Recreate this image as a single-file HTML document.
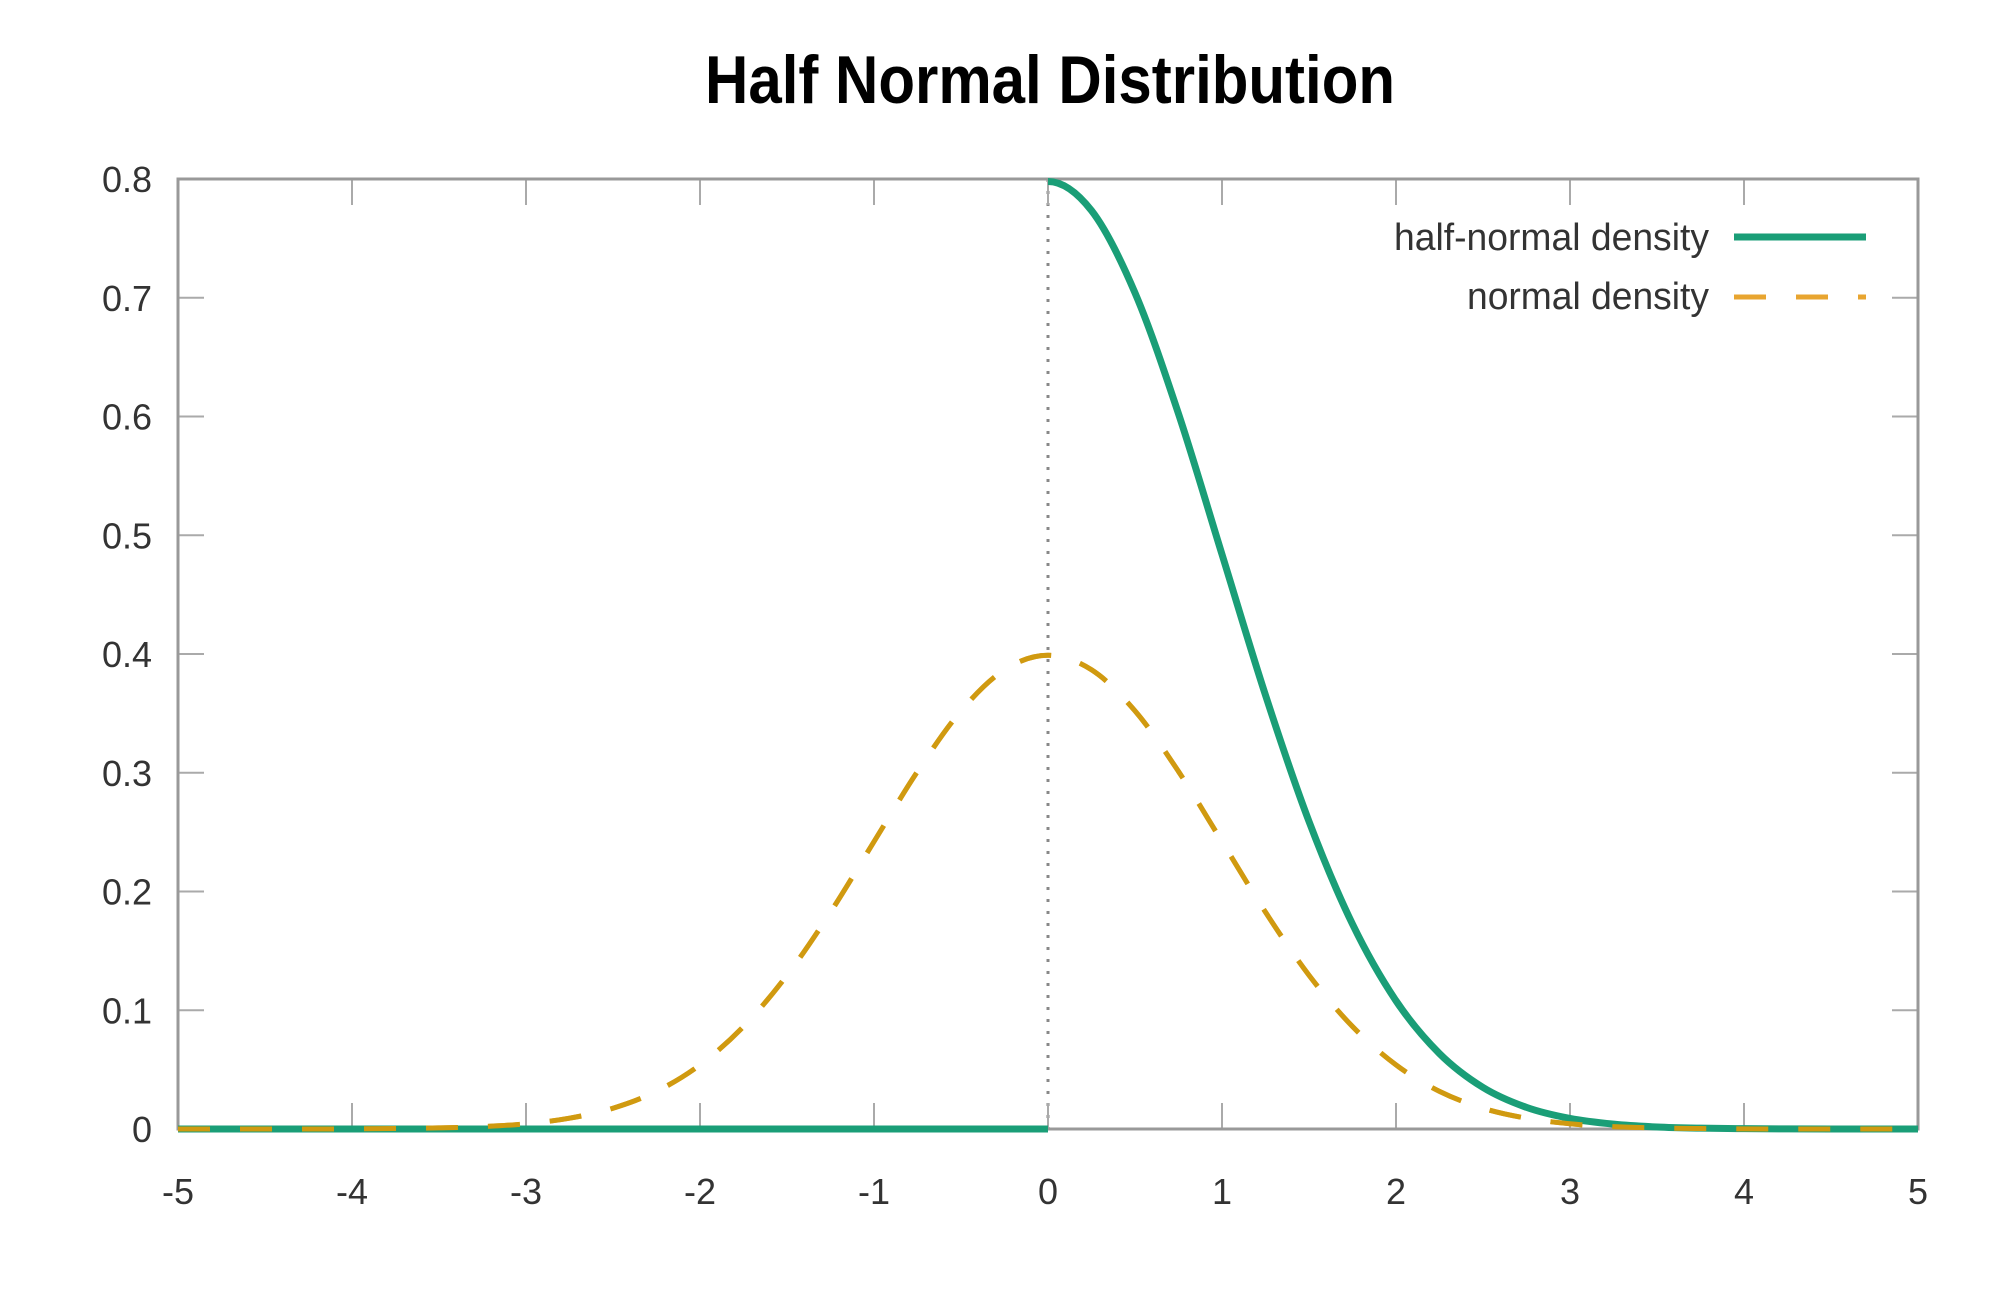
<!DOCTYPE html>
<html><head><meta charset="utf-8"><style>
html,body{margin:0;padding:0;background:#fff;}
svg{display:block;}
text{font-family:"Liberation Sans",sans-serif;}
</style></head><body>
<svg id="chart" width="2000" height="1309" viewBox="0 0 2000 1309" xmlns="http://www.w3.org/2000/svg">
<rect width="2000" height="1309" fill="#fff"/>
<text x="1050" y="103" text-anchor="middle" font-size="68" font-weight="bold" textLength="690" lengthAdjust="spacingAndGlyphs" fill="#000">Half Normal Distribution</text>
<g id="axes"></g>
<g id="series"></g>
<g>
<text x="1709" y="250" text-anchor="end" font-size="38" fill="#333" textLength="315" lengthAdjust="spacingAndGlyphs">half-normal density</text>
<line x1="1734" y1="237" x2="1866" y2="237" stroke="#1a9e77" stroke-width="7"/>
<text x="1709" y="309" text-anchor="end" font-size="38" fill="#333" textLength="242" lengthAdjust="spacingAndGlyphs">normal density</text>
<line x1="1734" y1="297" x2="1866" y2="297" stroke="#e8a530" stroke-width="5" stroke-dasharray="32,30"/>
</g>
</svg>
<script>
const xValues = [-5,-4.75,-4.5,-4.25,-4,-3.75,-3.5,-3.25,-3,-2.75,-2.5,-2.25,-2,-1.75,-1.5,-1.25,-1,-0.75,-0.5,-0.25,0,0.25,0.5,0.75,1,1.25,1.5,1.75,2,2.25,2.5,2.75,3,3.25,3.5,3.75,4,4.25,4.5,4.75,5];
const normalValues = [0,0,0,0,0.0001,0.0004,0.0009,0.0020,0.0044,0.0091,0.0175,0.0317,0.0540,0.0863,0.1295,0.1826,0.2420,0.3011,0.3521,0.3867,0.3989,0.3867,0.3521,0.3011,0.2420,0.1826,0.1295,0.0863,0.0540,0.0317,0.0175,0.0091,0.0044,0.0020,0.0009,0.0004,0.0001,0,0,0,0];
const halfNormalValues = [0,0,0,0,0,0,0,0,0,0,0,0,0,0,0,0,0,0,0,0,0.7979,0.7734,0.7041,0.6023,0.4839,0.3653,0.2590,0.1725,0.1080,0.0635,0.0350,0.0182,0.0089,0.0041,0.0017,0.0007,0.0003,0.0001,0,0,0];
const xTicks = [-5,-4,-3,-2,-1,0,1,2,3,4,5];
const yTicks = [0,0.1,0.2,0.3,0.4,0.5,0.6,0.7,0.8];
const yTickLabels = ["0","0.1","0.2","0.3","0.4","0.5","0.6","0.7","0.8"];

const L=178,R=1918,T=179,B=1129;
const xMin=-5,xMax=5,yMin=0,yMax=0.8;
const sx=v=>L+(v-xMin)/(xMax-xMin)*(R-L);
const sy=v=>B-(v-yMin)/(yMax-yMin)*(B-T);
const NS="http://www.w3.org/2000/svg";
const axes=document.getElementById('axes');
const series=document.getElementById('series');
function mk(tag,attrs,parent){const e=document.createElementNS(NS,tag);for(const k in attrs)e.setAttribute(k,attrs[k]);parent.appendChild(e);return e;}

let z=mk('line',{x1:sx(0),y1:T,x2:sx(0),y2:B,stroke:'#888','stroke-width':3,'stroke-dasharray':'3,9'},axes);



xTicks.forEach(v=>{
  const x=sx(v);
  let t=mk('line',{x1:x,y1:B,x2:x,y2:B-26,stroke:'#aaa','stroke-width':2},axes);
  
  
  let t2=mk('line',{x1:x,y1:T,x2:x,y2:T+26,stroke:'#aaa','stroke-width':2},axes);
  
  
  let lb=mk('text',{x:x,y:1204,'text-anchor':'middle','font-size':36,fill:'#333'},axes);
  lb.textContent=String(v);
  
  
});
yTicks.forEach((v,i)=>{
  const y=sy(v);
  let t=mk('line',{x1:L,y1:y,x2:L+26,y2:y,stroke:'#aaa','stroke-width':2},axes);
  
  
  let t2=mk('line',{x1:R,y1:y,x2:R-26,y2:y,stroke:'#aaa','stroke-width':2},axes);
  
  
  let lb=mk('text',{x:152,y:y+13,'text-anchor':'end','font-size':36,fill:'#333'},axes);
  lb.textContent=yTickLabels[i];
  
  
});
let frame=mk('rect',{x:L,y:T,width:R-L,height:B-T,fill:'none',stroke:'#999','stroke-width':3},axes);



function smoothPath(pts){
  let d='M'+pts[0][0]+','+pts[0][1];
  const n=pts.length;
  for(let i=0;i<n-1;i++){
    const p1=pts[i],p2=pts[i+1];
    const p0=i>0?pts[i-1]:[2*p1[0]-p2[0],p2[1]];
    const p3=i+2<n?pts[i+2]:[2*p2[0]-p1[0],p1[1]];
    const c1=[p1[0]+(p2[0]-p0[0])/6,p1[1]+(p2[1]-p0[1])/6];
    const c2=[p2[0]-(p3[0]-p1[0])/6,p2[1]-(p3[1]-p1[1])/6];
    d+=' C'+c1[0]+','+c1[1]+' '+c2[0]+','+c2[1]+' '+p2[0]+','+p2[1];
  }
  return d;
}
const hNeg=[],hPos=[];
xValues.forEach((x,i)=>{const p=[sx(x),sy(halfNormalValues[i])];if(x<0)hNeg.push(p);else hPos.push(p);});
hNeg.push([sx(0),sy(0)]);
const normPts=xValues.map((x,i)=>[sx(x),sy(normalValues[i])]);
let n=mk('path',{d:smoothPath(normPts),fill:'none',stroke:'#e8a530','stroke-width':5,'stroke-dasharray':'32,30'},series);


let h1=mk('path',{d:smoothPath(hNeg),fill:'none',stroke:'#1a9e77','stroke-width':7},series);


let h2=mk('path',{d:smoothPath(hPos),fill:'none',stroke:'#1a9e77','stroke-width':7},series);


let n2=mk('path',{d:smoothPath(normPts),fill:'none',stroke:'#d09a10','stroke-width':5,'stroke-dasharray':'32,30'},series);


</script>
</body></html>
